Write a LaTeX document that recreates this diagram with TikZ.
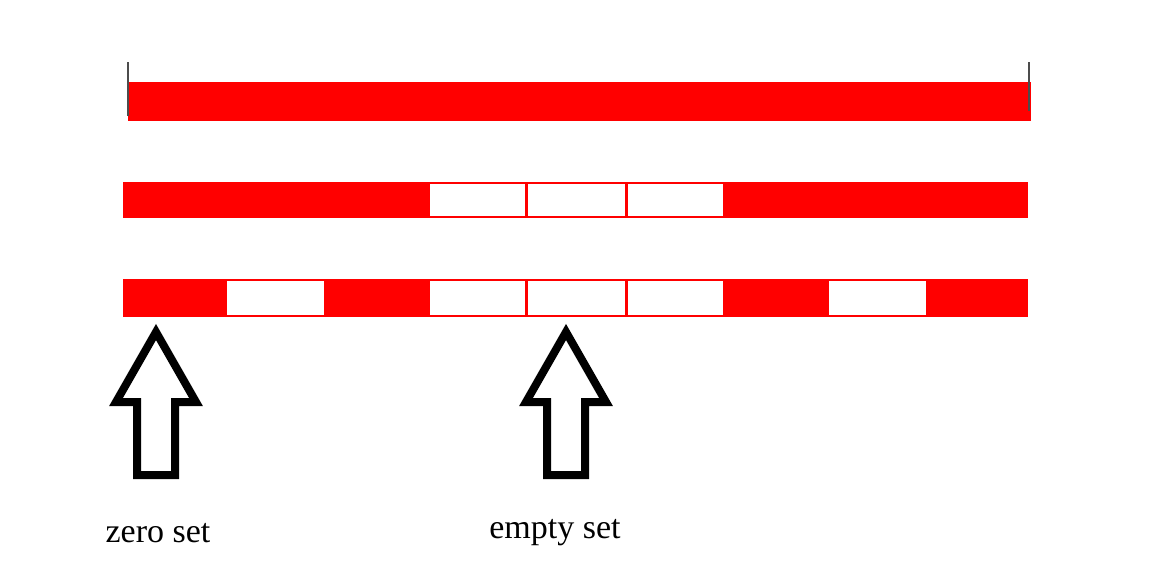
\documentclass[tikz,border=0pt]{standalone}
\usepackage{fontspec}
\setmainfont{Liberation Serif}
\begin{document}
\begin{tikzpicture}[x=1pt,y=-1pt,
  redbar/.style={fill=red,draw=none},
  hole/.style={fill=white,draw=none},
  tickmark/.style={draw=black!70,line width=2.2pt},
  bigarrow/.style={draw=black,line width=8pt,line join=miter,fill=white},
  lbl/.style={font=\fontsize{34}{40}\selectfont,anchor=base,inner sep=0pt},
  pics/hollowarrow/.style={code={
    \draw[bigarrow] (0,332) -- (40,402) -- (19,402) -- (19,475) -- (-19,475)
      -- (-19,402) -- (-40,402) -- cycle;}}]
\useasboundingbox (0,0) rectangle (1170,573);
% top bar
\fill[redbar] (128,82) rectangle (1031,121);
\draw[tickmark] (128,62) coordinate (tl) -- (128,116) coordinate (bl);
\draw[tickmark] (1029,62) coordinate (tr) -- (1029,111) coordinate (br);
% second bar
\fill[redbar] (123,182) rectangle (1028,218);
\foreach \a/\b in {428/526,526/626,626/724}
  \fill[hole] (\a+1.5,184) rectangle (\b-1.5,216);
% third bar
\fill[redbar] (123,279) rectangle (1028,317);
\foreach \a/\b in {225/325,428/526,526/626,626/724,827/927}
  \fill[hole] (\a+1.5,281) rectangle (\b-1.5,315);
% arrows
\pic (arrowA) at (156,0) {hollowarrow};
\pic (arrowB) at (566,0) {hollowarrow};
% labels
\node[lbl] (zero) at (158,542) {zero set};
\node[lbl] (empty) at (555,538) {empty set};
\end{tikzpicture}
\end{document}
